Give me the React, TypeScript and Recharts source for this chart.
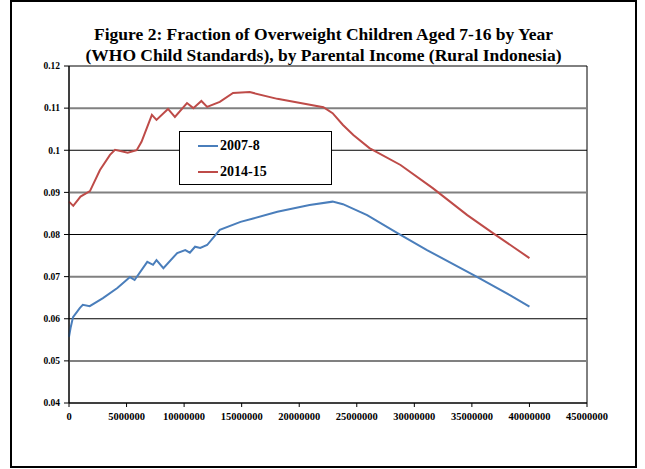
import {
  LineChart,
  Line,
  XAxis,
  YAxis,
  ReferenceLine,
  ReferenceArea,
  Legend,
} from "recharts";

// parental income (Rp) and fraction overweight
const incomes0708 = [
  0, 150000, 350000, 950000, 1200000, 1800000, 2950000, 4200000, 5300000,
  5700000, 6800000, 7300000, 7600000, 8200000, 9400000, 10100000, 10500000,
  10950000, 11400000, 12000000, 13100000, 14900000, 16000000, 18100000,
  20900000, 22900000, 23800000, 25900000, 28500000, 31100000, 35400000,
  38300000, 40000000,
];
const shares0708 = [
  0.0557, 0.058, 0.0604, 0.0626, 0.0633, 0.063, 0.0649, 0.0673, 0.0699,
  0.0692, 0.0735, 0.0728, 0.0739, 0.072, 0.0756, 0.0763, 0.0757, 0.0771,
  0.0768, 0.0775, 0.0811, 0.083, 0.0838, 0.0854, 0.087, 0.0878, 0.0872,
  0.0846, 0.0804, 0.0763, 0.07, 0.0656, 0.0629,
];

const incomes1415 = [
  0, 370000, 1000000, 1820000, 2690000, 3560000, 4000000, 5100000, 5880000,
  6300000, 7200000, 7600000, 8600000, 9200000, 10250000, 10800000, 11500000,
  12000000, 13100000, 14250000, 15700000, 18100000, 20100000, 22100000,
  22900000, 23800000, 24700000, 26100000, 28800000, 31600000, 34600000,
  36800000, 40000000,
];
const shares1415 = [
  0.0878, 0.0868, 0.089, 0.0903, 0.0953, 0.0989, 0.1001, 0.0994, 0.1,
  0.102, 0.1084, 0.1072, 0.1098, 0.1079, 0.1112, 0.11, 0.1117, 0.1103,
  0.1115, 0.1136, 0.1138, 0.1122, 0.1112, 0.1102, 0.1088, 0.106, 0.1036,
  0.1005, 0.0965, 0.091, 0.0846, 0.0804, 0.0744,
];

const xTicks = [
  0, 5000000, 10000000, 15000000, 20000000, 25000000, 30000000, 35000000,
  40000000, 45000000,
];
const yTicks = [0.04, 0.05, 0.06, 0.07, 0.08, 0.09, 0.1, 0.11, 0.12];
const gridLines = [0.05, 0.06, 0.07, 0.08, 0.09, 0.1, 0.11];

const series = [
  { name: "2007-8", color: "#4a7ebb", x: incomes0708, y: shares0708 },
  { name: "2014-15", color: "#be4b48", x: incomes1415, y: shares1415 },
];

const serif = "'Liberation Serif', 'Times New Roman', serif";

const LegendBox = () => (
  <div
    style={{
      width: 153,
      height: 54,
      boxSizing: "border-box",
      border: "1px solid #000",
      background: "#fff",
      fontFamily: serif,
      fontWeight: "bold",
      fontSize: 14,
      paddingTop: 1,
      textAlign: "left",
    }}
  >
    {series.map((s) => (
      <div
        key={s.name}
        style={{ display: "flex", alignItems: "center", height: 26 }}
      >
        <div
          style={{
            width: 20,
            height: 2,
            background: s.color,
            marginLeft: 18,
            marginRight: 2,
          }}
        />
        <span>{s.name}</span>
      </div>
    ))}
  </div>
);

export default function App() {
  return (
    <div style={{ position: "relative", width: 645, height: 469 }}>
      <style>{`body{margin:0}`}</style>
      <div
        style={{
          position: "absolute",
          left: 10,
          top: 0,
          width: 627,
          height: 468,
          boxSizing: "border-box",
          border: "2px solid #000",
        }}
      />
      <div
        style={{
          position: "absolute",
          left: 10,
          width: 627,
          top: 24,
          textAlign: "center",
          fontFamily: serif,
          fontWeight: "bold",
          fontSize: 17.5,
          lineHeight: "21px",
        }}
      >
        Figure 2: Fraction of Overweight Children Aged 7-16 by Year
        <br />
        (WHO Child Standards), by Parental Income (Rural Indonesia)
      </div>
      <LineChart
        width={645}
        height={469}
        margin={{ top: 66, right: 58, bottom: 36, left: 29 }}
        style={{ position: "absolute", left: 0, top: 0 }}
      >
        {gridLines.map((v, i) => (
          <ReferenceLine
            key={v}
            y={v}
            stroke={i % 2 === 0 ? "#808080" : "#000"}
            strokeWidth={i % 2 === 0 ? 2 : 1}
          />
        ))}
        <ReferenceArea
          x1={0}
          x2={45000000}
          y1={0.04}
          y2={0.12}
          fill="none"
          fillOpacity={0}
          stroke="#000"
          strokeWidth={1}
        />
        <XAxis
          type="number"
          dataKey="income"
          domain={[0, 45000000]}
          ticks={xTicks}
          interval={0}
          height={30}
          tickSize={4}
          tickMargin={6}
          axisLine={{ stroke: "#000" }}
          tickLine={{ stroke: "#000" }}
          tick={{
            fill: "#000",
            fontSize: 10.5,
            fontFamily: serif,
            fontWeight: "bold",
          }}
        />
        <YAxis
          type="number"
          domain={[0.04, 0.12]}
          ticks={yTicks}
          interval={0}
          width={40}
          tickSize={5}
          tickMargin={4}
          axisLine={{ stroke: "#000" }}
          tickLine={{ stroke: "#000" }}
          tick={{
            fill: "#000",
            fontSize: 9.5,
            fontFamily: serif,
            fontWeight: "bold",
          }}
        />
        {series.map((s) => (
          <Line
            key={s.name}
            name={s.name}
            data={s.x.map((x, i) => ({ income: x, share: s.y[i] }))}
            dataKey="share"
            type="linear"
            stroke={s.color}
            strokeWidth={2}
            dot={false}
            isAnimationActive={false}
          />
        ))}
        <Legend
          layout="horizontal"
          verticalAlign="middle"
          align="center"
          content={() => <LegendBox />}
          wrapperStyle={{
            position: "absolute",
            left: 179,
            top: 131,
            width: 153,
            height: 54,
            bottom: "auto",
            margin: 0,
          }}
        />
      </LineChart>
    </div>
  );
}
